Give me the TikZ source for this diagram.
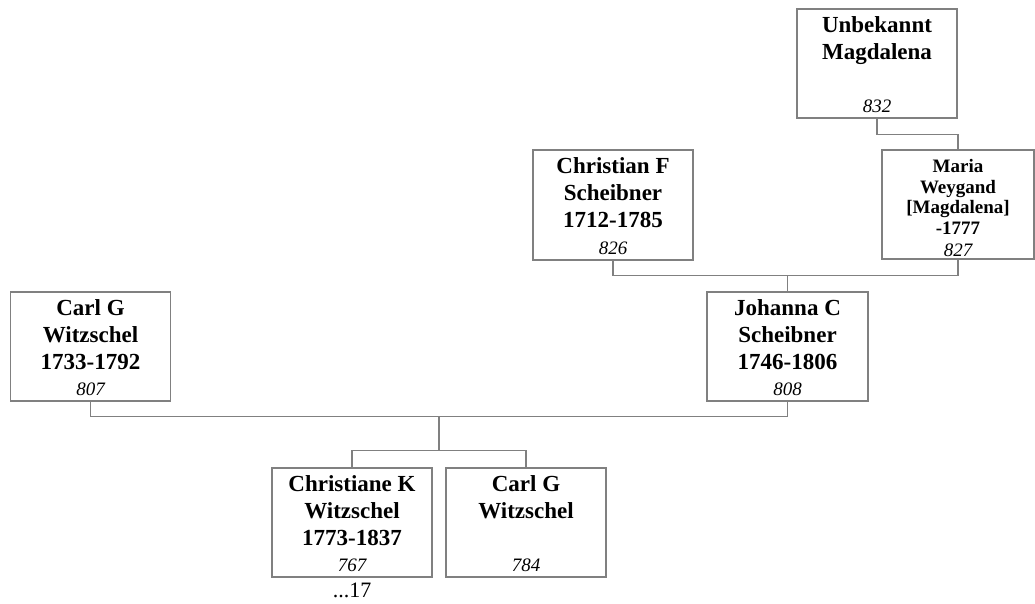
\documentclass[tikz,border=0pt]{standalone}
\usepackage{fontspec}
\setmainfont{Liberation Serif}
\usepackage{tikz}
\usetikzlibrary{positioning,calc}
\definecolor{linegray}{RGB}{128,128,128}

\begin{document}
\begin{tikzpicture}[x=1pt,y=-1pt,
		person/.style={draw=linegray,line width=1.3pt,minimum width=160pt,minimum height=109pt,inner sep=0pt},
		persontext/.style={anchor=north,align=center,inner sep=0pt,font=\fontsize{23}{27}\selectfont\bfseries},
		smalltext/.style={anchor=north,align=center,inner sep=0pt,font=\fontsize{19}{20.5}\selectfont\bfseries},
		idtext/.style={anchor=base,inner sep=0pt,font=\fontsize{19}{22}\selectfont\itshape},
		link/.style={draw=linegray,line width=1.3pt}]
		\useasboundingbox (0,0) rectangle (1035,603);
		% boxes
		\node[person] (unb) at (877,63.5) {};
		\node[person,minimum width=152pt] (maria) at (958,204.5) {};
		\node[person,minimum height=110pt] (chrf) at (613,205) {};
		\node[person,minimum width=161pt] (joh) at (787.5,346.5) {};
		\node[person] (carl) at (90.5,346.5) {};
		\node[person] (chk) at (352,522.5) {};
		\node[person] (carlg) at (526,522.5) {};
		% names
		\node[persontext] (unb-n) at ($(unb.north)+(0,8)$) {Unbekannt\\Magdalena};
		\node[smalltext] (maria-n) at ($(maria.north)+(0,10)$) {Maria\\Weygand\\{[}Magdalena{]}\\-1777};
		\node[persontext] (chrf-n) at ($(chrf.north)+(0,8)$) {Christian F\\Scheibner\\1712-1785};
		\node[persontext] (joh-n) at ($(joh.north)+(0,8)$) {Johanna C\\Scheibner\\1746-1806};
		\node[persontext] (carl-n) at ($(carl.north)+(0,8)$) {Carl G\\Witzschel\\1733-1792};
		\node[persontext] (chk-n) at ($(chk.north)+(0,8)$) {Christiane K\\Witzschel\\1773-1837};
		\node[persontext] (carlg-n) at ($(carlg.north)+(0,8)$) {Carl G\\Witzschel};
		% numbers
		\node[idtext] (unb-i) at ($(unb.south)+(0,-6)$) {832};
		\node[idtext] (maria-i) at ($(maria.south)+(0,-3)$) {827};
		\node[idtext] (chrf-i) at ($(chrf.south)+(0,-6)$) {826};
		\node[idtext] (joh-i) at ($(joh.south)+(0,-6)$) {808};
		\node[idtext] (carl-i) at ($(carl.south)+(0,-6)$) {807};
		\node[idtext] (chk-i) at ($(chk.south)+(0,-6)$) {767};
		\node[idtext] (carlg-i) at ($(carlg.south)+(0,-6)$) {784};
		\node[anchor=base,inner sep=0pt,font=\fontsize{22}{24}\selectfont] (more) at ($(chk.south)+(0,20)$) {...17};
		% connectors
		\coordinate (jn) at ($(joh.north)+(0,-16)$);
		\coordinate (fam) at ($(chk.north)!0.5!(carlg.north)+(0,-51)$);
		\coordinate (sib) at ($(chk.north)!0.5!(carlg.north)+(0,-17)$);
		\draw[link] (unb.south) -- ++(0,16) -| (maria.north);
		\draw[link] (chrf.south) |- (jn) -| (maria.south);
		\draw[link] (jn) -- (joh.north);
		\draw[link] (carl.south) |- (fam) -| (joh.south);
		\draw[link] (fam) -- (sib);
		\draw[link] (chk.north) |- (sib) -| (carlg.north);
	\end{tikzpicture}
\end{document}
